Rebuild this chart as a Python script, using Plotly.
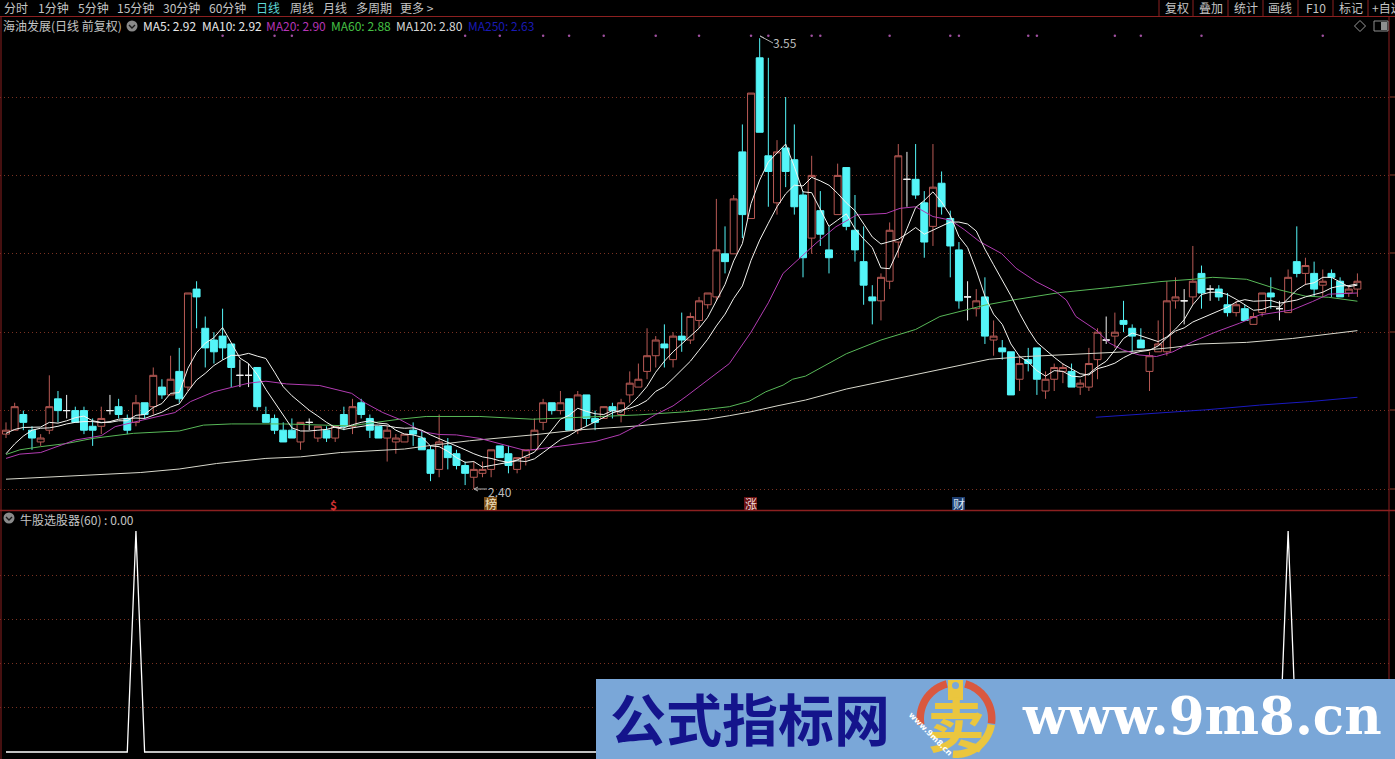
import math
import plotly.graph_objects as go

open_ = [2.54,2.55,2.59,2.55,2.52,2.55,2.63,2.60,2.60,2.60,
 2.56,2.56,2.60,2.61,2.58,2.57,2.62,2.61,2.66,2.64,
 2.70,2.66,2.91,2.81,2.78,2.79,2.77,2.69,2.69,2.71,
 2.59,2.58,2.55,2.55,2.52,2.57,2.53,2.55,2.53,2.59,
 2.56,2.62,2.58,2.56,2.53,2.52,2.52,2.55,2.53,2.50,
 2.45,2.51,2.49,2.46,2.43,2.44,2.45,2.51,2.49,2.45,
 2.48,2.50,2.57,2.62,2.60,2.63,2.55,2.64,2.58,2.58,
 2.61,2.59,2.64,2.66,2.70,2.74,2.77,2.73,2.79,2.78,
 2.83,2.87,2.89,3.00,3.00,3.26,3.09,3.50,3.25,3.13,
 3.27,3.24,3.15,3.04,3.11,3.01,3.10,3.22,3.06,2.98,
 2.89,2.88,2.93,3.03,3.19,3.19,3.13,3.07,3.18,3.09,
 3.01,2.89,2.86,2.89,2.78,2.76,2.75,2.68,2.73,2.76,
 2.65,2.68,2.70,2.70,2.66,2.66,2.73,2.78,2.79,2.83,
 2.81,2.78,2.70,2.75,2.75,2.88,2.88,2.89,2.95,2.91,
 2.91,2.87,2.85,2.86,2.82,2.85,2.90,2.86,2.85,2.98,
 2.95,2.95,2.92,2.95,2.93,2.90,2.91]
high = [2.57,2.62,2.60,2.56,2.54,2.69,2.65,2.64,2.61,2.61,
 2.58,2.61,2.64,2.63,2.59,2.64,2.62,2.71,2.68,2.74,
 2.76,2.90,2.93,2.84,2.80,2.86,2.77,2.73,2.72,2.71,
 2.61,2.59,2.57,2.58,2.57,2.58,2.56,2.56,2.56,2.61,
 2.63,2.63,2.59,2.56,2.56,2.54,2.54,2.57,2.55,2.51,
 2.59,2.53,2.50,2.47,2.47,2.47,2.50,2.51,2.51,2.48,
 2.50,2.58,2.63,2.62,2.65,2.63,2.65,2.64,2.60,2.61,
 2.62,2.63,2.70,2.72,2.81,2.79,2.82,2.80,2.85,2.85,
 2.89,2.90,3.14,3.07,3.15,3.33,3.41,3.55,3.50,3.29,
 3.40,3.33,3.16,3.25,3.16,3.07,3.23,3.22,3.15,3.07,
 2.92,2.95,3.08,3.28,3.26,3.28,3.16,3.28,3.21,3.11,
 3.03,2.93,2.91,2.94,2.83,2.78,2.75,2.74,2.76,2.76,
 2.70,2.72,2.72,2.72,2.68,2.76,2.81,2.84,2.85,2.88,
 2.82,2.81,2.75,2.83,2.93,2.94,2.91,3.02,2.97,2.92,
 2.92,2.90,2.88,2.87,2.85,2.90,2.94,2.88,2.96,3.07,
 2.99,2.98,2.96,2.96,2.94,2.92,2.95]
low = [2.53,2.55,2.55,2.50,2.51,2.54,2.57,2.58,2.57,2.54,
 2.51,2.54,2.59,2.58,2.54,2.56,2.58,2.59,2.63,2.64,
 2.62,2.65,2.81,2.71,2.72,2.73,2.66,2.66,2.66,2.60,
 2.57,2.54,2.52,2.53,2.50,2.55,2.52,2.52,2.52,2.55,
 2.54,2.58,2.53,2.53,2.47,2.49,2.52,2.51,2.50,2.42,
 2.43,2.45,2.45,2.41,2.40,2.43,2.43,2.48,2.44,2.44,
 2.46,2.50,2.55,2.59,2.59,2.55,2.54,2.56,2.55,2.58,
 2.58,2.57,2.62,2.66,2.68,2.71,2.71,2.71,2.75,2.77,
 2.81,2.86,2.88,2.95,3.00,3.04,3.09,3.31,3.12,3.10,
 3.17,3.10,2.94,3.00,3.02,2.95,3.10,3.06,2.98,2.87,
 2.82,2.83,2.91,2.99,3.12,3.14,2.99,3.02,3.10,2.94,
 2.86,2.83,2.84,2.77,2.74,2.73,2.64,2.65,2.70,2.64,
 2.63,2.65,2.67,2.66,2.64,2.65,2.68,2.77,2.76,2.80,
 2.75,2.76,2.65,2.75,2.74,2.86,2.82,2.87,2.86,2.88,
 2.88,2.84,2.84,2.83,2.82,2.84,2.86,2.83,2.85,2.94,
 2.92,2.89,2.89,2.89,2.89,2.89,2.89]
close = [2.55,2.61,2.57,2.53,2.53,2.61,2.60,2.60,2.57,2.55,
 2.55,2.58,2.60,2.59,2.55,2.62,2.59,2.69,2.64,2.68,
 2.63,2.90,2.89,2.76,2.75,2.76,2.71,2.69,2.69,2.61,
 2.57,2.55,2.52,2.53,2.57,2.57,2.56,2.53,2.56,2.56,
 2.61,2.59,2.55,2.53,2.55,2.53,2.54,2.54,2.50,2.44,
 2.52,2.48,2.46,2.44,2.45,2.45,2.50,2.48,2.46,2.48,
 2.50,2.55,2.62,2.60,2.62,2.55,2.64,2.58,2.57,2.61,
 2.60,2.62,2.67,2.68,2.74,2.78,2.76,2.79,2.78,2.84,
 2.88,2.90,3.01,2.98,3.14,3.10,3.41,3.31,3.21,3.26,
 3.21,3.12,2.99,3.20,3.05,2.99,3.20,3.07,3.01,2.92,
 2.88,2.94,3.06,3.25,3.19,3.15,3.03,3.17,3.12,3.02,
 2.88,2.89,2.88,2.79,2.79,2.75,2.64,2.72,2.72,2.68,
 2.68,2.71,2.71,2.66,2.67,2.72,2.80,2.78,2.80,2.82,
 2.79,2.76,2.74,2.77,2.88,2.89,2.88,2.93,2.90,2.91,
 2.89,2.85,2.87,2.83,2.84,2.90,2.89,2.86,2.94,2.95,
 2.97,2.91,2.93,2.94,2.89,2.91,2.93]

ma5 = [2.542,2.552,2.557,2.557,2.558,2.57,2.568,2.574,2.582,2.586,
 2.574,2.57,2.57,2.574,2.574,2.588,2.59,2.608,2.618,2.644,
 2.646,2.708,2.748,2.772,2.786,2.812,2.774,2.734,2.72,2.692,
 2.654,2.622,2.588,2.556,2.548,2.548,2.55,2.552,2.558,2.556,
 2.564,2.57,2.574,2.568,2.566,2.55,2.54,2.538,2.532,2.51,
 2.508,2.496,2.48,2.468,2.47,2.456,2.46,2.464,2.468,2.474,
 2.484,2.494,2.522,2.55,2.578,2.588,2.606,2.598,2.592,2.59,
 2.60,2.596,2.614,2.636,2.662,2.698,2.726,2.75,2.77,2.79,
 2.81,2.838,2.882,2.922,2.982,3.026,3.128,3.188,3.234,3.258,
 3.28,3.222,3.158,3.156,3.114,3.07,3.086,3.102,3.064,3.038,
 3.016,2.964,2.962,3.01,3.064,3.118,3.136,3.158,3.132,3.098,
 3.044,3.016,2.958,2.892,2.846,2.82,2.77,2.738,2.724,2.702,
 2.688,2.702,2.70,2.688,2.686,2.694,2.712,2.726,2.754,2.784,
 2.798,2.79,2.782,2.776,2.788,2.808,2.832,2.87,2.896,2.902,
 2.902,2.896,2.884,2.87,2.856,2.858,2.866,2.864,2.886,2.908,
 2.922,2.926,2.94,2.94,2.928,2.916,2.92]
ma10 = [2.49,2.515,2.535,2.55,2.555,2.556,2.56,2.566,2.57,2.572,
 2.572,2.569,2.572,2.578,2.58,2.581,2.58,2.589,2.596,2.609,
 2.617,2.649,2.678,2.695,2.715,2.729,2.741,2.741,2.746,2.739,
 2.733,2.698,2.661,2.638,2.62,2.601,2.586,2.57,2.557,2.552,
 2.556,2.56,2.563,2.563,2.561,2.557,2.555,2.556,2.55,2.538,
 2.529,2.518,2.509,2.50,2.49,2.482,2.478,2.472,2.468,2.472,
 2.47,2.477,2.493,2.509,2.526,2.536,2.55,2.56,2.571,2.584,
 2.594,2.601,2.606,2.614,2.626,2.649,2.661,2.682,2.703,2.726,
 2.754,2.782,2.816,2.846,2.886,2.918,2.983,3.035,3.078,3.12,
 3.153,3.175,3.173,3.195,3.186,3.175,3.154,3.13,3.11,3.076,
 3.043,3.025,3.032,3.037,3.051,3.067,3.05,3.06,3.071,3.081,
 3.081,3.076,3.058,3.012,2.972,2.932,2.893,2.848,2.808,2.774,
 2.754,2.736,2.719,2.706,2.694,2.691,2.707,2.713,2.721,2.735,
 2.746,2.751,2.754,2.765,2.786,2.803,2.811,2.826,2.836,2.845,
 2.855,2.864,2.877,2.883,2.879,2.88,2.881,2.874,2.878,2.882,
 2.89,2.896,2.902,2.913,2.918,2.919,2.923]

ma20_idx = [0,1.6,4,6,8,11,12.6,15.8,19.5,21.3,24,26,28,30,32.4,36.2,38.6,39.9,41.5,43.5,45.4,48.1,50,52,
 54.7,57.8,60,63.5,66.2,68,70.8,73,75,77,78.5,81,83.5,86,88,89.7,91.6,93.5,95.8,98.2,101.6,103.2,105,107,109,
 110.6,112.4,114.9,116.6,118.9,121.2,122.4,123.5,125.8,127.4,128.9,130.8,132.8,134.7,137,139.7,142.4,144.7,146.6,148.5,150.8,152.7,156]
ma20_val = [2.478,2.489,2.493,2.508,2.525,2.536,2.559,2.576,2.595,2.623,2.648,2.659,2.67,2.675,2.668,2.664,2.651,2.644,2.619,2.595,2.578,2.546,2.539,2.538,
 2.529,2.512,2.498,2.508,2.516,2.521,2.538,2.563,2.59,2.612,2.636,2.678,2.72,2.80,2.875,2.95,2.988,3.027,3.069,3.099,3.103,3.116,3.12,3.095,3.086,
 3.062,3.031,3.001,2.963,2.929,2.903,2.882,2.84,2.806,2.772,2.755,2.742,2.738,2.75,2.776,2.801,2.823,2.844,2.85,2.857,2.878,2.897,2.90]
ma60_idx = [0,1.6,4,7,10,14.7,20,22.8,26,32,39.7,45.4,48.5,54.7,60.8,66.9,73,78.5,83.5,85.8,87.7,89.7,90.8,92.3,97,101,105,107.8,110,113,116.2,121.6,127.4,133.2,137,139.3,143.2,147,150,152.7,156]
ma60_val = [2.488,2.50,2.508,2.516,2.529,2.542,2.548,2.563,2.566,2.566,2.561,2.578,2.585,2.585,2.578,2.583,2.589,2.597,2.61,2.624,2.648,2.665,2.68,2.688,2.745,2.78,2.807,2.84,2.852,2.869,2.882,2.901,2.914,2.929,2.935,2.94,2.935,2.908,2.892,2.889,2.879]
ma120_idx = [0,7,15.5,20,24.3,30,34,38.6,46,49,53.5,60.8,66.2,73,78.5,81,83.5,86,89,92.3,97,103,110,113.5,117.8,123.5,129.3,134.7,137.8,143.2,148.5,156]
ma120_val = [2.425,2.433,2.442,2.451,2.465,2.478,2.482,2.493,2.502,2.511,2.523,2.538,2.551,2.561,2.572,2.578,2.587,2.597,2.612,2.627,2.655,2.683,2.716,2.731,2.738,2.744,2.75,2.761,2.77,2.774,2.784,2.804]
ma250_idx = [125.8,131.2,138.5,144.7,150.5,156]
ma250_val = [2.583,2.591,2.602,2.614,2.623,2.634]

signal_idx = [0,14,15,16,147,148,149,156]
signal_val = [0,0,100,0,0,100,0,0]
dot_idx = [25,31,33,53,57,62,65,69,75,80,86,88,93,94,102,109,110,118,119,128,131,138,152]
dot_level = [3.556]*len(dot_idx)
price_ticks = [2.4,2.6,2.8,3.0,3.2,3.4]
signal_ticks = [20,40,60,80]

toolbar_left = ["分时","1分钟","5分钟","15分钟","30分钟","60分钟","日线","周线","月线","多周期","更多 >"]
toolbar_left_x = [4,38,78,117,163,209,256,290,323,356,400]
toolbar_right = ["复权","叠加","统计","画线","F10","标记","+自选"]
toolbar_right_x = [1165,1199,1234,1268,1306,1339,1372]
toolbar_seps = [1159,1193,1228,1263,1298,1333,1368]
ma_labels = [("MA5: 2.92",143,"#E8E8E8"),("MA10: 2.92",202,"#E8E8E8"),("MA20: 2.90",266,"#B535B5"),
             ("MA60: 2.88",331,"#45C045"),("MA120: 2.80",396,"#D8D8D8"),("MA250: 2.63",468,"#1A1AB4")]

W, H = 1395, 759
FONT = "Noto Sans CJK SC"
GRID = "#7A3222"
BORDER = "#8C2020"
RED = "#B85A55"
CYAN = "#54F5F8"
PITCH = 8.663

def px(x): return x / W
def py(y): return 1 - y / H

idx = list(range(len(close)))
kinds = {
    "up": [i for i in idx if close[i] > open_[i]],
    "down": [i for i in idx if close[i] < open_[i]],
    "flat": [i for i in idx if close[i] == open_[i]],
}

def candles(ids, line, fill):
    side = dict(line=dict(color=line, width=1), fillcolor=fill)
    return go.Candlestick(x=ids, open=[open_[i] for i in ids], high=[high[i] for i in ids],
                          low=[low[i] for i in ids], close=[close[i] for i in ids],
                          increasing=side, decreasing=side, whiskerwidth=0,
                          xaxis="x", yaxis="y", hoverinfo="skip", showlegend=False)

def ma(x, y, color, w=1.0):
    return go.Scatter(x=x, y=y, mode="lines", line=dict(color=color, width=w), xaxis="x", yaxis="y",
                      hoverinfo="skip", showlegend=False)

fig = go.Figure()
fig.add_trace(candles(kinds["up"], RED, "#000000"))
fig.add_trace(candles(kinds["down"], CYAN, CYAN))
fig.add_trace(candles(kinds["flat"], "#F2F2F2", "#F2F2F2"))
fig.add_trace(ma(ma250_idx, ma250_val, "#1A1AC0"))
fig.add_trace(ma(ma120_idx, ma120_val, "#D8D8CC"))
fig.add_trace(ma(ma60_idx, ma60_val, "#58B858"))
fig.add_trace(ma(ma20_idx, ma20_val, "#B23CB2"))
fig.add_trace(ma(idx, ma10, "#F4F4F0"))
fig.add_trace(ma(idx, ma5, "#F4F4F0"))
fig.add_trace(go.Scatter(x=dot_idx, y=dot_level, mode="markers", marker=dict(color="#A050A0", size=2.5),
                         xaxis="x", yaxis="y", hoverinfo="skip", showlegend=False))
fig.add_trace(go.Scatter(x=signal_idx, y=signal_val, mode="lines", line=dict(color="#FFFFFF", width=1.3),
                         xaxis="x2", yaxis="y2", hoverinfo="skip", showlegend=False))

shapes = []
def line(x0, y0, x1, y1, color, w=1):
    shapes.append(dict(type="line", xref="paper", yref="paper", x0=px(x0), y0=py(y0), x1=px(x1), y1=py(y1),
                       line=dict(color=color, width=w)))
def rect(x0, y0, x1, y1, fill, border=None, w=1, layer="above"):
    shapes.append(dict(type="rect", xref="paper", yref="paper", x0=px(x0), y0=py(y0), x1=px(x1), y1=py(y1),
                       fillcolor=fill, line=dict(color=border or fill, width=w if border else 0), layer=layer))

# frame
line(0, 16.5, W, 16.5, BORDER)
line(0, 510.5, W, 510.5, BORDER, 1.3)
line(1, 17, 1, H, BORDER)
line(1389, 17, 1389, 680, BORDER)
for sx in toolbar_seps:
    line(sx, 0, sx, 16, BORDER)
for ty in [97, 175, 253, 332, 410, 489]:
    line(1390, ty, 1395, ty, "#8C3A2A")

# indicator icons
def chevron_icon(cx, cy, r):
    shapes.append(dict(type="circle", xref="paper", yref="paper", x0=px(cx-r), y0=py(cy-r), x1=px(cx+r), y1=py(cy+r),
                       fillcolor="#8A8A8A", line=dict(width=0)))
    p = f"M{px(cx-3)},{py(cy-1)} L{px(cx)},{py(cy+2)} L{px(cx+3)},{py(cy-1)}"
    shapes.append(dict(type="path", xref="paper", yref="paper", path=p, line=dict(color="#1A1A1A", width=1.4)))
chevron_icon(132, 26, 5.5)
chevron_icon(9, 518, 5.5)
shapes.append(dict(type="path", xref="paper", yref="paper",
                   path=f"M{px(1360)},{py(20.5)} L{px(1365.5)},{py(26)} L{px(1360)},{py(31.5)} L{px(1354.5)},{py(26)} Z",
                   line=dict(color="#9A9A9A", width=1)))
rect(1374, 21, 1388, 31, "rgba(0,0,0,0)", "#8E8E8E", 1)
rect(1381, 22, 1387, 30, "#8E8E8E")

# high / low arrows
line(760, 36, 773, 43, "#B0B0B0")
line(760, 36, 764, 38, "#B0B0B0")
line(474, 489, 487, 489, "#B0B0B0")
line(474, 489, 478, 487, "#B0B0B0")
line(474, 489, 478, 491, "#B0B0B0")

# tag backgrounds
rect(484, 497, 497, 510, "#7A4E18")
rect(744, 497, 757, 510, "#6A1212")
rect(952, 497, 965, 510, "#1E3E70")

# banner
rect(596, 679, W, H, "#7AA7D8")

def arc(cx, cy, r0, r1, a0, a1, color):
    n = 40
    outer = [(cx + r1*math.cos(math.radians(a0+(a1-a0)*k/n)), cy - r1*math.sin(math.radians(a0+(a1-a0)*k/n))) for k in range(n+1)]
    inner = [(cx + r0*math.cos(math.radians(a1-(a1-a0)*k/n)), cy - r0*math.sin(math.radians(a1-(a1-a0)*k/n))) for k in range(n+1)]
    pts = outer + inner
    path = "M" + " L".join(f"{px(x):.5f},{py(y):.5f}" for x, y in pts) + " Z"
    shapes.append(dict(type="path", xref="paper", yref="paper", path=path, fillcolor=color, line=dict(width=0)))

arc(956, 718.5, 32, 39.5, 105, 190, "#D9583F")
arc(956, 718.5, 32, 39.5, -8, 75, "#D9583F")
arc(956, 718.5, 32, 39.5, -95, -10, "#EBC63E")
rect(948, 680, 963, 700, "#EBC63E")
shapes.append(dict(type="circle", xref="paper", yref="paper", x0=px(952), y0=py(682), x1=px(959), y1=py(689),
                   fillcolor="#7AA7D8", line=dict(width=0)))

def label(text, x, y, color="#C4C4C4", size=12, anchor="left", bold=False, family=FONT, angle=0):
    t = f"<b>{text}</b>" if bold else text
    return dict(text=t, x=px(x), y=py(y), xref="paper", yref="paper", showarrow=False, xanchor=anchor,
                yanchor="middle", font=dict(color=color, size=size, family=family), textangle=angle, borderpad=0, borderwidth=0)

ann = []
for t, x in zip(toolbar_left, toolbar_left_x):
    ann.append(label(t, x, 8, "#5CD6D6" if t == "日线" else "#C4C4C4"))
for t, x in zip(toolbar_right, toolbar_right_x):
    ann.append(label(t, x, 8))
ann.append(label("海油发展(日线 前复权)", 3, 26))
for t, x, c in ma_labels:
    ann.append(label(t, x, 26, c))
ann.append(label("牛股选股器(60) : 0.00", 20, 519))
ann.append(label("3.55", 773, 43, "#BDBDBD"))
ann.append(label("2.40", 488, 491, "#BDBDBD"))
ann.append(label("$", 333, 504, "#D03030", 12, "center", True))
ann.append(label("榜", 490.5, 503, "#F0E0C0", 12, "center"))
ann.append(label("涨", 750.5, 503, "#F0D8D8", 12, "center"))
ann.append(label("财", 958.5, 503, "#D8E4F4", 12, "center"))
ann.append(label("公式指标网", 750, 716, "#14148C", 56, "center", True))
ann.append(label("www.9m8.cn", 1202, 716, "#FFFFFF", 51.5, "center", True, "DejaVu Serif"))
ann.append(label("卖", 956, 722, "#EBC63E", 58, "center", True))
ann.append(label("www.9m8.cn", 931, 734, "#FFFFFF", 8, "center", True, "DejaVu Sans", 45))

plot_right = 1389
x_rng = [(0 - 6) / PITCH, (plot_right - 6) / PITCH]
fig.update_layout(
    width=W, height=H, autosize=False, margin=dict(l=0, r=0, t=0, b=0, pad=0),
    paper_bgcolor="#000000", plot_bgcolor="#000000", showlegend=False, hovermode=False,
    boxmode="overlay", boxgap=0.2, boxgroupgap=0,
    shapes=shapes, annotations=ann,
    xaxis=dict(domain=[0, plot_right/W], range=x_rng, visible=False, rangeslider=dict(visible=False), anchor="y"),
    xaxis2=dict(domain=[0, plot_right/W], range=x_rng, visible=False, anchor="y2"),
    yaxis=dict(domain=[py(510), py(17)], range=[2.40 - 21/392, 2.40 + 472/392], tickvals=price_ticks,
               showgrid=True, gridcolor=GRID, griddash="1px,3px", gridwidth=1, showticklabels=False,
               zeroline=False, ticks="", showline=False, anchor="x"),
    yaxis2=dict(domain=[0, py(511)], range=[-(759-752)/2.21, (752-511)/2.21], tickvals=signal_ticks,
                showgrid=True, gridcolor=GRID, griddash="1px,3px", gridwidth=1, showticklabels=False,
                zeroline=False, ticks="", showline=False, anchor="x2"),
)
fig.write_html("out.html", config=dict(displayModeBar=False),
               post_script="document.body.style.margin='0';document.body.style.background='#000';document.documentElement.style.overflow='hidden';")
